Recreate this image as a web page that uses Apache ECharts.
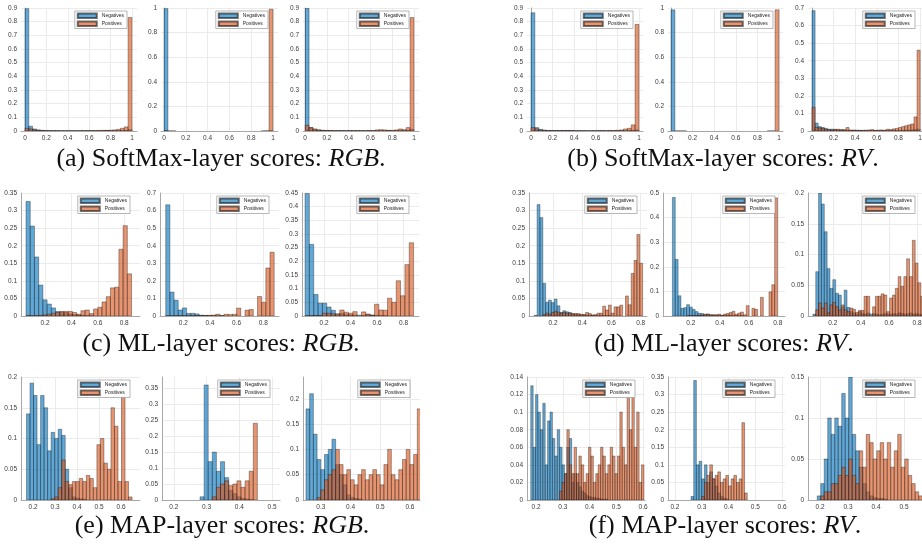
<!DOCTYPE html>
<html>
<head>
<meta charset="utf-8">
<script src="https://cdn.jsdelivr.net/npm/echarts@6/dist/echarts.min.js"></script>
<style>
  html, body { margin: 0; background: #fff; }
  #chart { width: 922px; height: 554px; }
</style>
</head>
<body>
<div id="chart"></div>
<script>
// ---- data: each histogram is [first bin edge, bin width] + bin heights ----
var binA1 = [0, 0.0357];
var negA1 = [0.895, 0.035, 0.015, 0.008, 0.005, 0.003, 0.002, 0.002, 0.002, 0.001, 0.001, 0.001, 0.001, 0.001, 0.001, 0.001, 0.001, 0.001, 0.001, 0.001, 0.001, 0.002, 0.001, 0.002, 0.002, 0.002, 0.003, 0.01];
var posA1 = [0.02, 0.015, 0.008, 0.005, 0.003, 0.002, 0.002, 0.001, 0.001, 0.001, 0.001, 0.001, 0.001, 0.001, 0.002, 0.002, 0.002, 0.003, 0.003, 0.004, 0.005, 0.005, 0.006, 0.008, 0.012, 0.02, 0.03, 0.83];
var binA2 = [0, 0.0357];
var negA2 = [0.995, 0.001, 0.001, 0, 0, 0, 0, 0, 0, 0, 0, 0, 0, 0, 0, 0, 0, 0, 0, 0, 0, 0, 0, 0, 0, 0, 0, 0.001];
var posA2 = [0.002, 0, 0, 0, 0, 0, 0, 0, 0, 0, 0, 0, 0, 0, 0, 0, 0, 0, 0, 0, 0, 0, 0, 0, 0, 0.001, 0.002, 0.99];
var binA3 = [0, 0.0357];
var negA3 = [0.898, 0.025, 0.012, 0.008, 0.005, 0.004, 0.003, 0.002, 0.002, 0.002, 0.001, 0.002, 0.001, 0.002, 0.001, 0.001, 0.002, 0.001, 0.002, 0.001, 0.001, 0.002, 0.001, 0.002, 0.002, 0.003, 0.004, 0.012];
var posA3 = [0.042, 0.025, 0.015, 0.008, 0.005, 0.004, 0.003, 0.002, 0.002, 0.002, 0.002, 0.002, 0.003, 0.002, 0.003, 0.002, 0.003, 0.002, 0.008, 0.01, 0.008, 0.005, 0.005, 0.008, 0.015, 0.01, 0.025, 0.83];

var binB1 = [0, 0.0357];
var negB1 = [0.865, 0.025, 0.012, 0.006, 0.004, 0.003, 0.003, 0.003, 0.003, 0.004, 0.003, 0.002, 0.002, 0.002, 0.001, 0.001, 0.001, 0.001, 0.002, 0.001, 0.002, 0.001, 0.002, 0.002, 0.002, 0.003, 0.004, 0.008];
var posB1 = [0.025, 0.015, 0.008, 0.005, 0.003, 0.002, 0.002, 0.002, 0.003, 0.003, 0.002, 0.001, 0.001, 0.001, 0.001, 0.001, 0.002, 0.002, 0.002, 0.002, 0.003, 0.003, 0.005, 0.008, 0.015, 0.02, 0.045, 0.78];
var binB2 = [0, 0.0357];
var negB2 = [0.985, 0.001, 0.001, 0.001, 0, 0, 0, 0, 0, 0, 0, 0, 0, 0, 0, 0, 0, 0, 0, 0, 0, 0, 0, 0, 0, 0, 0, 0];
var posB2 = [0, 0, 0, 0, 0, 0, 0, 0, 0, 0, 0, 0, 0, 0, 0, 0, 0, 0, 0, 0, 0, 0, 0, 0, 0, 0.001, 0.001, 0.985];
var binB3 = [0, 0.0286];
var negB3 = [0.685, 0.045, 0.025, 0.02, 0.015, 0.01, 0.01, 0.008, 0.006, 0.006, 0.005, 0.005, 0.004, 0.004, 0.003, 0.003, 0.003, 0.002, 0.002, 0.002, 0.002, 0.002, 0.002, 0.002, 0.003, 0.002, 0.003, 0.003, 0.003, 0.004, 0.004, 0.005, 0.006, 0.008, 0.01];
var posB3 = [0.135, 0.02, 0.018, 0.015, 0.01, 0.008, 0.006, 0.01, 0.01, 0.008, 0.008, 0.02, 0.005, 0.005, 0.005, 0.004, 0.004, 0.005, 0.006, 0.008, 0.004, 0.005, 0.006, 0.005, 0.01, 0.008, 0.012, 0.015, 0.02, 0.025, 0.03, 0.035, 0.04, 0.08, 0.46];

var binC1 = [0.056, 0.032];
var negC1 = [0.326, 0.256, 0.168, 0.088, 0.046, 0.034, 0.023, 0.013, 0.011, 0.01, 0.006, 0.004, 0.003, 0.002, 0.001, 0.001, 0, 0, 0, 0, 0, 0, 0, 0, 0];
var posC1 = [0.001, 0.001, 0.001, 0.002, 0.003, 0.005, 0.008, 0.01, 0.013, 0.013, 0.013, 0.01, 0.005, 0.015, 0.017, 0.007, 0.02, 0.025, 0.04, 0.055, 0.08, 0.082, 0.19, 0.257, 0.12];
var binC2 = [0.068, 0.0313];
var negC2 = [0.633, 0.136, 0.09, 0.034, 0.046, 0.015, 0.015, 0.012, 0.005, 0.003, 0.002, 0.002, 0.001, 0.001, 0, 0, 0, 0, 0, 0, 0, 0, 0, 0, 0, 0];
var posC2 = [0.001, 0.001, 0.002, 0.002, 0.002, 0.002, 0.002, 0.002, 0.002, 0.003, 0.004, 0.005, 0.01, 0.003, 0.01, 0.008, 0.01, 0.045, 0, 0.033, 0.037, 0, 0.111, 0.078, 0.273, 0.363];
var binC3 = [0.056, 0.0328];
var negC3 = [0.448, 0.262, 0.079, 0.047, 0.047, 0.033, 0.021, 0.007, 0.01, 0.005, 0.004, 0.003, 0.003, 0.002, 0.006, 0.004, 0.002, 0.001, 0.001, 0, 0, 0, 0, 0, 0];
var posC3 = [0.001, 0.001, 0.002, 0.002, 0.01, 0.01, 0.008, 0.008, 0.022, 0.014, 0.01, 0.016, 0, 0.015, 0.007, 0.001, 0.043, 0.022, 0.021, 0.065, 0.05, 0.129, 0.074, 0.188, 0.268];

var binD1 = [0.072, 0.0195];
var negD1 = [0.002, 0.317, 0.28, 0.093, 0.039, 0.045, 0.038, 0.048, 0.029, 0.01, 0.015, 0.012, 0.01, 0.006, 0.005, 0.004, 0.003, 0.003, 0.002, 0.002, 0.002, 0.001, 0.001, 0.001, 0.001, 0.001, 0.001, 0, 0, 0, 0, 0, 0, 0, 0, 0, 0, 0];
var posD1 = [0, 0, 0, 0.004, 0.008, 0.005, 0.01, 0.013, 0.011, 0.008, 0.01, 0.008, 0.008, 0.007, 0.007, 0.007, 0.005, 0.004, 0.01, 0.007, 0.003, 0.004, 0.008, 0.008, 0.028, 0.017, 0.031, 0.008, 0.026, 0.026, 0.031, 0, 0.057, 0.032, 0.121, 0.158, 0.232, 0.15];
var binD2 = [0.073, 0.0196];
var negD2 = [0.482, 0.23, 0.082, 0.031, 0.034, 0.046, 0.036, 0.027, 0.018, 0.011, 0.01, 0.007, 0.008, 0.005, 0.004, 0.003, 0.003, 0.002, 0.002, 0.002, 0.001, 0.001, 0.001, 0.001, 0.001, 0, 0, 0, 0, 0, 0, 0, 0, 0, 0, 0, 0];
var posD2 = [0, 0, 0, 0, 0, 0.001, 0.001, 0.002, 0.002, 0.002, 0.003, 0.005, 0.007, 0.004, 0.005, 0.005, 0.007, 0.003, 0.008, 0.01, 0.014, 0.019, 0.007, 0.012, 0.016, 0.005, 0.042, 0, 0.031, 0.027, 0, 0.076, 0, 0, 0.098, 0.127, 0.48];
var binD3 = [0.059, 0.0202];
var negD3 = [0.003, 0.072, 0.2, 0.182, 0.137, 0.077, 0.045, 0.059, 0.037, 0.034, 0.015, 0.042, 0.014, 0.007, 0.005, 0.003, 0.007, 0.004, 0.003, 0.005, 0.003, 0.004, 0.003, 0.002, 0.003, 0.004, 0.003, 0.003, 0.004, 0.003, 0.005, 0.004, 0.003, 0.004, 0.005, 0.003, 0.004, 0.003, 0.002];
var posD3 = [0, 0.01, 0.021, 0.013, 0.021, 0.005, 0.018, 0.022, 0.015, 0.01, 0.018, 0.01, 0.007, 0.013, 0.011, 0.006, 0.009, 0.009, 0.032, 0.032, 0, 0.015, 0.032, 0.032, 0.036, 0.034, 0.007, 0.029, 0.034, 0.045, 0.064, 0.048, 0.064, 0.093, 0.064, 0.123, 0.086, 0.054, 0.032];

var binE1 = [0.17, 0.016];
var negE1 = [0.14, 0.19, 0.17, 0.09, 0.17, 0.15, 0.08, 0.11, 0.1, 0.115, 0.105, 0.05, 0.02, 0.005, 0.003, 0.002, 0.001, 0, 0, 0, 0, 0, 0, 0, 0, 0, 0, 0, 0, 0];
var posE1 = [0, 0, 0, 0, 0, 0, 0, 0.002, 0.005, 0.02, 0.065, 0.03, 0.025, 0.03, 0.03, 0.035, 0.03, 0.04, 0.035, 0.02, 0.09, 0.1, 0.06, 0.05, 0.15, 0.12, 0.03, 0.19, 0.03, 0.005];
var binE2 = [0.28, 0.0125];
var negE2 = [0.01, 0.36, 0.12, 0.15, 0.09, 0.12, 0.07, 0.03, 0.02, 0.01, 0.005, 0.003, 0.001, 0, 0, 0];
var posE2 = [0, 0, 0, 0.01, 0.04, 0.05, 0.06, 0.045, 0.05, 0.06, 0.04, 0.06, 0.09, 0.24, 0, 0];
var binE3 = [0.25, 0.0125];
var negE3 = [0.18, 0.21, 0.13, 0.08, 0.06, 0.09, 0.1, 0.12, 0.07, 0.05, 0.03, 0.01, 0.005, 0.003, 0.002, 0, 0, 0, 0, 0, 0, 0, 0, 0, 0, 0, 0, 0, 0, 0, 0];
var posE3 = [0, 0, 0, 0.005, 0.02, 0.04, 0.05, 0.06, 0.1, 0.07, 0.05, 0.06, 0.04, 0.03, 0.05, 0.06, 0.04, 0.05, 0.06, 0.05, 0.03, 0.07, 0.1, 0.05, 0.04, 0.06, 0.08, 0.1, 0.07, 0.09, 0.18];

var binF1 = [0.18, 0.009];
var negF1 = [0.13, 0.06, 0.12, 0.1, 0.08, 0.11, 0.04, 0.09, 0.1, 0.07, 0.05, 0.08, 0.06, 0.04, 0.03, 0.06, 0.07, 0.02, 0.03, 0.02, 0.015, 0.01, 0.008, 0.005, 0.004, 0.003, 0.003, 0.002, 0.002, 0.001, 0.001, 0.001, 0, 0, 0, 0, 0, 0, 0, 0, 0, 0, 0, 0, 0, 0, 0];
var posF1 = [0, 0, 0, 0, 0, 0, 0, 0, 0, 0, 0, 0, 0.01, 0.02, 0.03, 0.08, 0.04, 0.03, 0.06, 0.03, 0.05, 0.04, 0.02, 0.03, 0.06, 0.05, 0.02, 0.03, 0.04, 0.06, 0.05, 0.03, 0.04, 0.06, 0.05, 0.03, 0.05, 0.1, 0.06, 0.04, 0.12, 0.08, 0.13, 0.06, 0.1, 0.02, 0.04];
var binF2 = [0.26, 0.01];
var negF2 = [0.01, 0.34, 0.1, 0.11, 0.06, 0.1, 0.05, 0.08, 0.06, 0.04, 0.02, 0.01, 0.005, 0.003, 0, 0, 0, 0, 0, 0, 0, 0];
var posF2 = [0, 0, 0, 0, 0.01, 0.05, 0.07, 0.1, 0.06, 0.07, 0.08, 0.05, 0.06, 0.07, 0.04, 0.06, 0.07, 0.05, 0.06, 0.22, 0.02, 0];
var binF3 = [0.19, 0.0125];
var negF3 = [0.005, 0.02, 0.05, 0.1, 0.08, 0.1, 0.09, 0.13, 0.1, 0.15, 0.08, 0.06, 0.04, 0.02, 0.01, 0.005, 0.003, 0.002, 0.002, 0.001, 0, 0, 0, 0, 0, 0, 0, 0, 0, 0, 0, 0, 0, 0];
var posF3 = [0, 0.005, 0.01, 0.01, 0.02, 0.02, 0.03, 0.04, 0.03, 0.05, 0.03, 0.02, 0.06, 0.04, 0.08, 0.07, 0.05, 0.06, 0.07, 0.05, 0.07, 0.04, 0.06, 0.08, 0.04, 0.05, 0.03, 0.02, 0.01, 0.005, 0, 0, 0, 0];

// ---- axis limits and tick labels ----
var xTicksUnit = [0, 0.2, 0.4, 0.6, 0.8, 1];
var xTicksML = [0.2, 0.4, 0.6, 0.8];
var xTicksMap1 = [0.2, 0.3, 0.4, 0.5, 0.6];
var xTicksMap2 = [0.2, 0.3, 0.4, 0.5];
var xTicksMap3 = [0.3, 0.4, 0.5, 0.6];
var yTicks09 = [0, 0.1, 0.2, 0.3, 0.4, 0.5, 0.6, 0.7, 0.8, 0.9];
var yTicks10 = [0, 0.2, 0.4, 0.6, 0.8, 1];
var yTicks07 = [0, 0.1, 0.2, 0.3, 0.4, 0.5, 0.6, 0.7];
var yTicks05 = [0, 0.1, 0.2, 0.3, 0.4, 0.5];
var yTicks035 = [0, 0.05, 0.1, 0.15, 0.2, 0.25, 0.3, 0.35];
var yTicks045 = [0, 0.05, 0.1, 0.15, 0.2, 0.25, 0.3, 0.35, 0.4, 0.45];
var yTicks02 = [0, 0.05, 0.1, 0.15, 0.2];
var yTicks015 = [0, 0.05, 0.1, 0.15];
var yTicks014 = [0, 0.02, 0.04, 0.06, 0.08, 0.1, 0.12, 0.14];

var captions = ['(a) SoftMax-layer scores: {i|RGB}.', '(b) SoftMax-layer scores: {i|RV}.',
                '(c) ML-layer scores: {i|RGB}.', '(d) ML-layer scores: {i|RV}.',
                '(e) MAP-layer scores: {i|RGB}.', '(f) MAP-layer scores: {i|RV}.'];

var panels = [
  { bin: binA1, neg: negA1, pos: posA1, x: [-0.037, 1.047], xt: xTicksUnit, y: [0, 0.9], yt: yTicks09 },
  { bin: binA2, neg: negA2, pos: posA2, x: [-0.028, 1.046], xt: xTicksUnit, y: [0, 1], yt: yTicks10 },
  { bin: binA3, neg: negA3, pos: posA3, x: [-0.02, 1.046], xt: xTicksUnit, y: [0, 0.9], yt: yTicks09 },
  { bin: binB1, neg: negB1, pos: posB1, x: [-0.037, 1.037], xt: xTicksUnit, y: [0, 0.9], yt: yTicks09 },
  { bin: binB2, neg: negB2, pos: posB2, x: [-0.028, 1.037], xt: xTicksUnit, y: [0, 1], yt: yTicks10 },
  { bin: binB3, neg: negB3, pos: posB3, x: [-0.037, 1.046], xt: xTicksUnit, y: [0, 0.7], yt: yTicks07 },
  { bin: binC1, neg: negC1, pos: posC1, x: [0.018, 0.92], xt: xTicksML, y: [0, 0.35], yt: yTicks035 },
  { bin: binC2, neg: negC2, pos: posC2, x: [0.025, 0.918], xt: xTicksML, y: [0, 0.7], yt: yTicks07 },
  { bin: binC3, neg: negC3, pos: posC3, x: [0.033, 0.917], xt: xTicksML, y: [0, 0.45], yt: yTicks045 },
  { bin: binD1, neg: negD1, pos: posD1, x: [0.036, 0.843], xt: xTicksML, y: [0, 0.35], yt: yTicks035 },
  { bin: binD2, neg: negD2, pos: posD2, x: [0.008, 0.85], xt: xTicksML, y: [0, 0.5], yt: yTicks05 },
  { bin: binD3, neg: negD3, pos: posD3, x: [0.024, 0.856], xt: xTicksML, y: [0, 0.2], yt: yTicks02 },
  { bin: binE1, neg: negE1, pos: posE1, x: [0.145, 0.686], xt: xTicksMap1, y: [0, 0.2], yt: yTicks02 },
  { bin: binE2, neg: negE2, pos: posE2, x: [0.164, 0.524], xt: xTicksMap2, y: [0, 0.385], yt: yTicks035 },
  { bin: binE3, neg: negE3, pos: posE3, x: [0.24, 0.634], xt: xTicksMap3, y: [0, 0.243], yt: yTicks02 },
  { bin: binF1, neg: negF1, pos: posF1, x: [0.166, 0.607], xt: xTicksMap1, y: [0, 0.14], yt: yTicks014 },
  { bin: binF2, neg: negF2, pos: posF2, x: [0.174, 0.611], xt: xTicksMap1, y: [0, 0.35], yt: yTicks035 },
  { bin: binF3, neg: negF3, pos: posF3, x: [0.157, 0.575], xt: xTicksMap2, y: [0, 0.15], yt: yTicks015 }
];

// plot boxes [left, top, width, height] in px
var boxes = [
  [21, 8, 116, 123], [161, 8, 117, 123], [303, 8, 116, 123],
  [527, 8, 116, 123], [668, 8, 115, 123], [808, 8, 117, 123],
  [21, 193, 119, 123], [160, 193, 119, 123], [302, 193, 117, 123],
  [529, 193, 118, 123], [663, 193, 122, 123], [808, 193, 117, 123],
  [21, 377, 119, 123], [162, 377, 118, 123], [303, 377, 117, 123],
  [527, 377, 118, 123], [668, 377, 117, 123], [808, 377, 117, 123]
];
var captionPos = [[216, 141], [718, 141], [216, 326], [719, 326], [217, 508], [720, 508]];

var BLUE = 'rgba(0,114,189,0.62)';
var ORANGE = 'rgba(217,83,25,0.62)';
var EDGE = 'rgba(20,20,20,0.6)';
var SANS = 'Liberation Sans, Arial, sans-serif';
var SERIF = 'Liberation Serif, Times New Roman, serif';

function binsOf(bin, counts) {
  var out = [];
  counts.forEach(function (c, i) {
    if (c > 0) out.push([bin[0] + i * bin[1], bin[0] + (i + 1) * bin[1], c]);
  });
  return out;
}

function drawBin(params, api) {
  var top = api.coord([api.value(0), api.value(2)]);
  var base = api.coord([api.value(1), 0]);
  return {
    type: 'rect',
    shape: { x: top[0], y: top[1], width: base[0] - top[0], height: base[1] - top[1] },
    style: api.style()
  };
}

function fmt(v) { return String(Math.round(v * 1000) / 1000); }

var grid = [], xAxis = [], yAxis = [], series = [], legend = [], title = [];

panels.forEach(function (p, i) {
  var b = boxes[i];
  grid.push({ left: b[0], top: b[1], width: b[2], height: b[3], outerBoundsMode: 'none', containLabel: false });
  xAxis.push({
    type: 'value', gridIndex: i, min: p.x[0], max: p.x[1],
    axisLine: { show: true, onZero: false, lineStyle: { color: '#a8a8a8', width: 1 } },
    axisTick: { show: false, customValues: p.xt },
    axisLabel: { customValues: p.xt, formatter: fmt, fontSize: 6.5, color: '#3a3a3a', fontFamily: SANS, margin: 4 },
    splitLine: { show: true, lineStyle: { color: '#ebebeb', width: 1 } }
  });
  yAxis.push({
    type: 'value', gridIndex: i, min: p.y[0], max: p.y[1],
    axisLine: { show: true, lineStyle: { color: '#a8a8a8', width: 1 } },
    axisTick: { show: false, customValues: p.yt },
    axisLabel: { customValues: p.yt, formatter: fmt, fontSize: 6.5, color: '#3a3a3a', fontFamily: SANS, margin: 4 },
    splitLine: { show: true, lineStyle: { color: '#ebebeb', width: 1 } }
  });
  [['Negatives', p.neg, BLUE], ['Positives', p.pos, ORANGE]].forEach(function (s) {
    series.push({
      type: 'custom', name: s[0], xAxisIndex: i, yAxisIndex: i,
      renderItem: drawBin, clip: true,
      encode: { x: [0, 1], y: 2 },
      itemStyle: { color: s[2], borderColor: EDGE, borderWidth: 0.6 },
      data: binsOf(p.bin, s[1])
    });
  });
  legend.push({
    data: ['Negatives', 'Positives'], orient: 'vertical', icon: 'rect',
    right: 922 - (b[0] + b[2]) + 10, top: b[1] + 3,
    itemWidth: 19, itemHeight: 4.5, itemGap: 1.5,
    padding: [1.5, 3, 1.5, 2],
    borderColor: '#999', borderWidth: 0.7, backgroundColor: '#fff',
    selectedMode: false,
    textStyle: { fontSize: 5, color: '#222', fontFamily: SANS }
  });
});

captions.forEach(function (c, i) {
  title.push({
    text: c, left: captionPos[i][0], top: captionPos[i][1], textAlign: 'center',
    textStyle: {
      fontFamily: SERIF, fontSize: 26, fontWeight: 'normal', color: '#111',
      rich: { i: { fontFamily: SERIF, fontSize: 26, fontStyle: 'italic', color: '#111' } }
    }
  });
});

var chart = echarts.init(document.getElementById('chart'), null, { renderer: 'canvas' });
chart.setOption({
  animation: false,
  backgroundColor: '#fff',
  title: title,
  legend: legend,
  grid: grid,
  xAxis: xAxis,
  yAxis: yAxis,
  series: series
});
</script>
</body>
</html>
